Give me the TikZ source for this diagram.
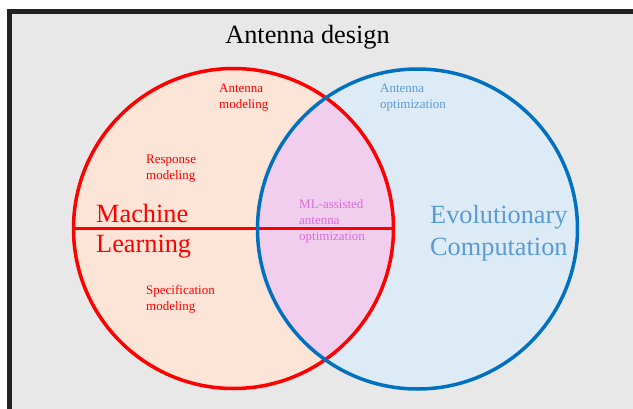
\documentclass[tikz,border=0pt]{standalone}
\usepackage{fontspec}
\setmainfont{Liberation Serif}
\definecolor{panelgray}{HTML}{E8E8E8}
\definecolor{paneledge}{HTML}{222222}
\definecolor{mlfill}{HTML}{FCE4D6}
\definecolor{ecfill}{HTML}{DDEBF7}
\definecolor{bothfill}{HTML}{F1CDEE}
\definecolor{mlred}{HTML}{FF0000}
\definecolor{ecblue}{HTML}{0070C0}
\definecolor{ectext}{HTML}{5B9BD5}
\definecolor{bothtext}{HTML}{D86FD6}
\begin{document}
\begin{tikzpicture}[x=1pt,y=-1pt,
  big/.style={font=\fontsize{26.3}{30}\selectfont, anchor=base west, inner sep=0pt},
  small/.style={font=\fontsize{13}{16}\selectfont, anchor=base west, inner sep=0pt, align=left},
  ring/.style={line width=3.5pt}]
\useasboundingbox (0,0) rectangle (633,408);
\clip (0,0) rectangle (633,408);
% panel
\fill[panelgray] (9.5,11.5) rectangle (660,430);
\draw[line width=5pt, paneledge] (9.5,430) -- (9.5,11.5) -- (660,11.5);
% circles
\coordinate (mlc) at (233.5,228.5);
\coordinate (ecc) at (417.5,229);
\fill[mlfill] (mlc) circle[radius=160];
\fill[ecfill] (ecc) circle[radius=160];
\begin{scope}
  \clip (mlc) circle[radius=160];
  \fill[bothfill] (ecc) circle[radius=160];
\end{scope}
\draw[ring, mlred] (mlc) circle[radius=160];
\draw[ring, mlred] (73.5,228.5) -- (393.5,228.5);
\draw[ring, ecblue] (ecc) circle[radius=160];
% title
\node[font=\fontsize{26.3}{30}\selectfont, anchor=base, inner sep=0pt] (title) at (307.5,43) {Antenna design};
% labels (multi-line nodes are placed by the baseline of their last line)
\node[big, text=mlred] (mach) at (96,222) {Machine};
\node[big, text=mlred] (learn) at (96,252) {Learning};
\node[big, text=ectext] (evo) at (430,223) {Evolutionary};
\node[big, text=ectext] (comp) at (430,255) {Computation};
\node[small, text=mlred] (am) at (219,108) {Antenna\\modeling};
\node[small, text=mlred] (rm) at (146,179) {Response\\modeling};
\node[small, text=mlred] (sm) at (146,310) {Specification\\modeling};
\node[small, text=ectext] (ao) at (380,108) {Antenna\\optimization};
\node[small, text=bothtext] (ml) at (299,240) {ML-assisted\\antenna\\optimization};
\end{tikzpicture}
\end{document}
